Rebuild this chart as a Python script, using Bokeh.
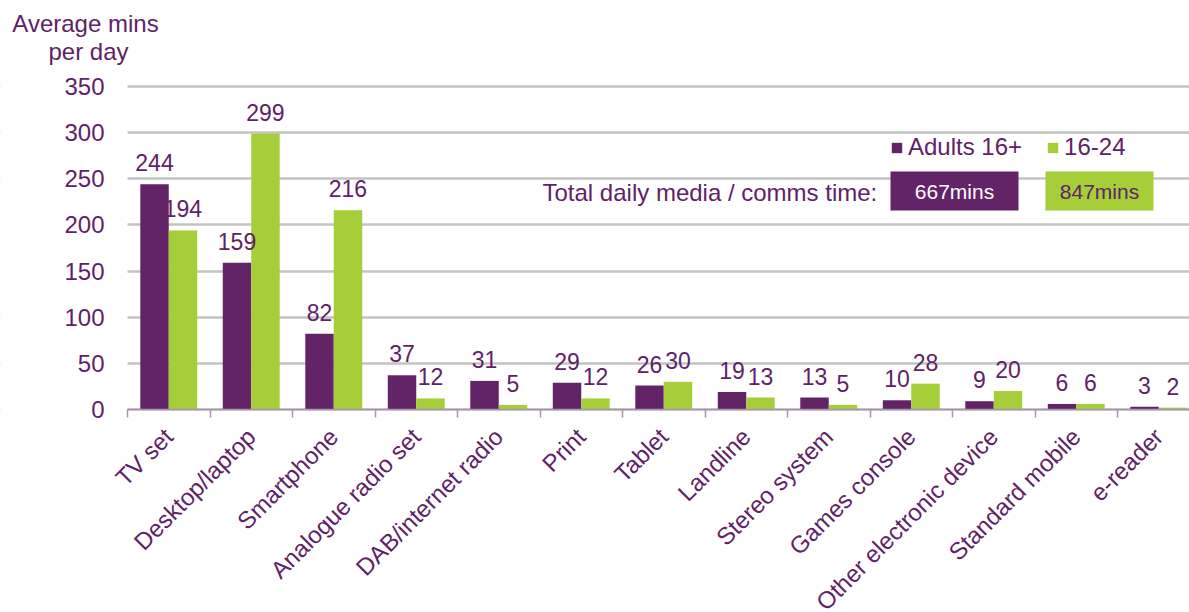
import numpy as np
from bokeh.plotting import figure
from bokeh.models import (ColumnDataSource, Range1d, FixedTicker, LabelSet, Label,
                          BoxAnnotation, Legend, LegendItem)
from bokeh.core.properties import value
from bokeh.transform import dodge
from bokeh.embed import file_html
from bokeh.resources import INLINE

# ---------------- data ----------------
categories = ["TV set", "Desktop/laptop", "Smartphone", "Analogue radio set",
              "DAB/internet radio", "Print", "Tablet", "Landline", "Stereo system",
              "Games console", "Other electronic device", "Standard mobile", "e-reader"]
adults_16_plus = [244, 159, 82, 37, 31, 29, 26, 19, 13, 10, 9, 6, 3]
age_16_24 = [194, 299, 216, 12, 5, 12, 30, 13, 5, 28, 20, 6, 2]
y_ticks = [0, 50, 100, 150, 200, 250, 300, 350]
series_names = ["Adults 16+", "16-24"]
totals = ["667mins", "847mins"]
y_title = ["Average mins", "per day"]
totals_caption = "Total daily media / comms time:"

# ---------------- style ----------------
PURPLE = "#622466"
GREEN = "#A6CE39"
TEXT = "#5E2366"
GRID = "#C3C3C3"
AXIS = "#A994AF"
FONT = "Liberation Sans"

W, H = 1189, 612
AX_X, AX_Y = 127, 409        # page position of the axes origin
Y350_PX = 86                 # page y of the 350 gridline
CW = 82.5                    # category width in px
PX_PER_UNIT_Y = (AX_Y - Y350_PX) / 350.0


def dx(px):
    return (px - AX_X) / CW


def dy(py):
    return (AX_Y - py) / PX_PER_UNIT_Y


n = len(categories)
centers = [i + 0.5 for i in range(n)]
src = ColumnDataSource(dict(
    x=centers,
    a=adults_16_plus,
    b=age_16_24,
    a_txt=[str(v) for v in adults_16_plus],
    b_txt=[str(v) for v in age_16_24],
))

# the frame covers the whole canvas; the axes are pinned at the data origin
p = figure(width=W, height=H, output_backend="svg", toolbar_location=None,
           x_range=Range1d(dx(0), dx(W)), y_range=Range1d(dy(H), dy(0)),
           min_border=0, min_border_left=0, min_border_right=0,
           min_border_top=0, min_border_bottom=0)
p.outline_line_color = None
p.background_fill_color = "white"
p.border_fill_color = "white"

# grid, masked left of the y axis
p.xgrid.grid_line_color = None
p.ygrid.grid_line_color = GRID
p.ygrid.grid_line_width = 2.5
p.add_layout(BoxAnnotation(left=dx(0), right=0, bottom=dy(H), top=dy(0),
                           fill_color="white", fill_alpha=1, line_color=None,
                           level="underlay"))

OFF = 0.1725
BW = 0.345
ra = p.vbar(x=dodge("x", -OFF, range=p.x_range), top="a", width=BW, source=src,
            fill_color=PURPLE, line_color=None)
rb = p.vbar(x=dodge("x", OFF, range=p.x_range), top="b", width=BW, source=src,
            fill_color=GREEN, line_color=None)

# value labels
for col, txt, off in (("a", "a_txt", -OFF), ("b", "b_txt", OFF)):
    p.add_layout(LabelSet(x=dodge("x", off, range=p.x_range), y=col, text=txt, source=src,
                          y_offset=13, text_align="center", text_baseline="alphabetic",
                          text_font=value(FONT), text_font_size="23px", text_color=TEXT))

# y axis
p.yaxis.fixed_location = 0
p.yaxis.bounds = (0, 350)
p.yaxis.ticker = FixedTicker(ticks=y_ticks)
p.yaxis.axis_line_color = None
p.yaxis.major_tick_line_color = None
p.yaxis.major_tick_out = 0
p.yaxis.major_tick_in = 0
p.yaxis.minor_tick_line_color = None
p.yaxis.minor_tick_out = 0
p.yaxis.major_label_standoff = 23
p.yaxis.major_label_text_font = FONT
p.yaxis.major_label_text_font_size = "24px"
p.yaxis.major_label_text_color = TEXT

# x axis
p.xaxis.fixed_location = 0
p.xaxis.bounds = (0, n)
p.xaxis.ticker = FixedTicker(ticks=centers, minor_ticks=list(range(n + 1)))
p.xaxis.major_label_overrides = {c: name for c, name in zip(centers, categories)}
p.xaxis.major_label_orientation = np.pi / 4
p.xaxis.major_label_standoff = 15
p.xaxis.major_label_text_font = FONT
p.xaxis.major_label_text_font_size = "24px"
p.xaxis.major_label_text_color = TEXT
p.xaxis.axis_line_color = AXIS
p.xaxis.axis_line_width = 1.5
p.xaxis.major_tick_line_color = None
p.xaxis.major_tick_in = 0
p.xaxis.major_tick_out = 0
p.xaxis.minor_tick_line_color = AXIS
p.xaxis.minor_tick_line_width = 1.5
p.xaxis.minor_tick_in = 0
p.xaxis.minor_tick_out = 8

# y title (two centred lines, top-left)
p.add_layout(Label(x=dx(85), y=dy(22.5), text=y_title[0], text_align="center",
                   text_baseline="middle", text_font=FONT, text_font_size="24px",
                   text_color=TEXT))
p.add_layout(Label(x=dx(88), y=dy(51), text=y_title[1], text_align="center",
                   text_baseline="middle", text_font=FONT, text_font_size="24px",
                   text_color=TEXT))

# legend
legend = Legend(items=[LegendItem(label=series_names[0], renderers=[ra]),
                       LegendItem(label=series_names[1], renderers=[rb])],
                orientation="horizontal", location=(890, H - 161),
                glyph_width=13, glyph_height=13, label_standoff=5, spacing=24,
                padding=0, margin=0, border_line_color=None,
                background_fill_alpha=0, label_text_font=FONT,
                label_text_font_size="24px", label_text_color=TEXT)
p.add_layout(legend)

# totals
p.add_layout(Label(x=dx(542), y=dy(192), text=totals_caption, text_align="left",
                   text_baseline="middle", text_font=FONT, text_font_size="24px",
                   text_color=TEXT))
p.add_layout(BoxAnnotation(left=dx(890), right=dx(1018), top=dy(171), bottom=dy(210),
                           fill_color=PURPLE, fill_alpha=1, line_color=None))
p.add_layout(BoxAnnotation(left=dx(1045), right=dx(1153), top=dy(171), bottom=dy(210),
                           fill_color=GREEN, fill_alpha=1, line_color=None))
p.add_layout(Label(x=dx(954), y=dy(190.5), text=totals[0], text_align="center",
                   text_baseline="middle", text_font=FONT, text_font_size="21px",
                   text_color="white"))
p.add_layout(Label(x=dx(1099), y=dy(190.5), text=totals[1], text_align="center",
                   text_baseline="middle", text_font=FONT, text_font_size="21px",
                   text_color=TEXT))

open("out.html", "w").write(file_html(p, INLINE))
